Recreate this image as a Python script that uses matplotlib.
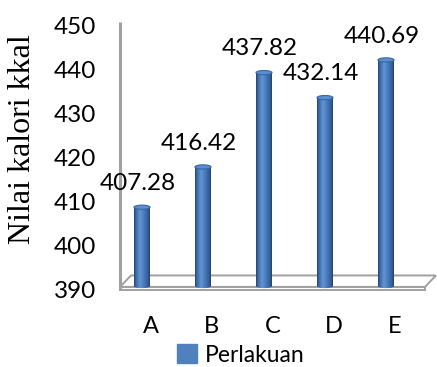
import numpy as np
import matplotlib
matplotlib.use("Agg")
import matplotlib.pyplot as plt
from matplotlib.patches import Polygon, Ellipse, Patch
from matplotlib.path import Path
from matplotlib.colors import LinearSegmentedColormap

categories = ["A", "B", "C", "D", "E"]
values = [407.28, 416.42, 437.82, 432.14, 440.69]
y_ticks = [390, 400, 410, 420, 430, 440, 450]
series_name = "Perlakuan"
y_title = "Nilai kalori kkal"

SANS = ["Lato", "DejaVu Sans"]
SERIF = ["Liberation Serif", "DejaVu Serif"]

fig = plt.figure(figsize=(4.37, 3.67), dpi=100)
ax = fig.add_axes([120 / 437, 77 / 367, 317 / 437, 264.5 / 367])
ymin, ymax = 390, 450
xmax = 4.5 + 12 / 61
ax.set_xlim(-0.5, xmax)
ax.set_ylim(ymin, ymax)

for s in ax.spines.values():
    s.set_visible(False)

grey = "#a0a0a0"
# depth of the 3-D floor, in data units
ddx, ddy = 0.18, 2.6
front_h = 0.7

# floor slab
top_face = Polygon([(-0.5, ymin + front_h), (4.5, ymin + front_h),
                    (4.5 + ddx, ymin + front_h + ddy), (-0.5 + ddx, ymin + front_h + ddy)],
                   closed=True, facecolor="white", edgecolor=grey, lw=1.4, zorder=1, clip_on=False)
front_face = Polygon([(-0.5, ymin), (4.5, ymin), (4.5, ymin + front_h), (-0.5, ymin + front_h)],
                     closed=True, facecolor="white", edgecolor=grey, lw=1.4, zorder=1, clip_on=False)
ax.add_patch(top_face)
ax.add_patch(front_face)
# value axis line
ax.plot([-0.5, -0.5], [ymin, ymax + 0.8], color=grey, lw=2.2, zorder=1, clip_on=False,
        solid_capstyle="butt")

# cylinders
cyl_cmap = LinearSegmentedColormap.from_list(
    "cyl", [(0.0, "#254469"), (0.12, "#3c6aa8"), (0.38, "#6395d4"),
            (0.65, "#4678bb"), (0.9, "#325c95"), (1.0, "#224066")])
grad = np.linspace(0, 1, 64)[None, :]
bar_dx = -8.5 / 61
hw = 8 / 61
eh = 0.95
base = ymin + 0.9
lift = 1.5

for i, v in enumerate(values):
    cx = i + bar_dx
    top = v + lift
    t = np.linspace(np.pi, 2 * np.pi, 40)
    bottom_arc = [(cx + hw * np.cos(a), base + eh / 2 * np.sin(a)) for a in t]
    verts = [(cx - hw, top)] + bottom_arc + [(cx + hw, top), (cx - hw, top)]
    clip = Path(verts, closed=True)
    im = ax.imshow(grad, cmap=cyl_cmap, aspect="auto",
                   extent=(cx - hw, cx + hw, base - eh, top), zorder=3,
                   interpolation="bilinear")
    im.set_clip_path(clip, transform=ax.transData)
    ax.add_patch(Ellipse((cx, top), 2 * hw, eh, facecolor="#5a8ed3",
                         edgecolor="#3a66a0", lw=0.8, zorder=4))
    ax.text(i - 0.21, v + lift + 5.4, f"{v:.2f}", ha="center", va="center",
            fontsize=17.5, family=SANS, color="black", zorder=5)

ax.set_xlim(-0.5, xmax)
ax.set_ylim(ymin, ymax)
ax.set_xticks(range(len(categories)))
ax.set_xticklabels(categories, family=SANS, fontsize=17)
ax.set_yticks(y_ticks)
ax.set_yticklabels([str(t) for t in y_ticks], family=SANS, fontsize=17.5)
ax.tick_params(axis="x", length=0, pad=19)
ax.tick_params(axis="y", length=0, pad=17)

fig.text(23 / 437, 1 - 139 / 367, y_title, rotation=90, ha="center", va="center",
         fontsize=23, family=SERIF)

handle = Patch(facecolor="#4f81bd", edgecolor="#4f81bd")
fig.legend([handle], [series_name], loc="center", bbox_to_anchor=(241 / 437, 1 - 355 / 367),
           frameon=False, prop={"family": SANS, "size": 16.5}, handlelength=0.85,
           handleheight=0.85, handletextpad=0.35, borderpad=0)

fig.savefig("out.png", dpi=100)
